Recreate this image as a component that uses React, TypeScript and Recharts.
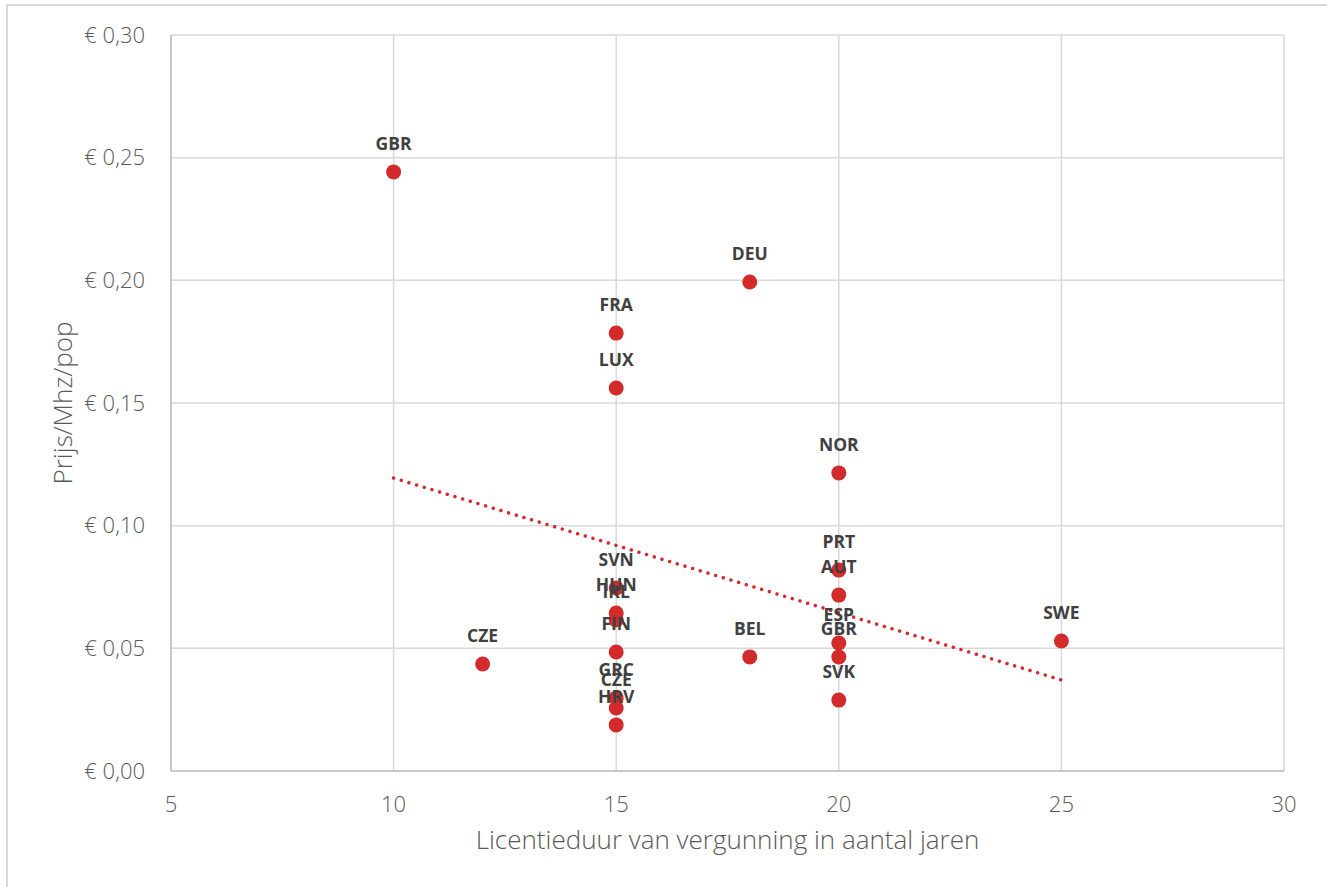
import React from 'react';
import { ScatterChart, Scatter, XAxis, YAxis, CartesianGrid, Label, LabelList } from 'recharts';

const countries = ['GBR', 'DEU', 'FRA', 'LUX', 'NOR', 'PRT', 'AUT', 'ESP', 'GBR', 'SVK', 'SWE', 'BEL', 'CZE', 'SVN', 'HUN', 'IRL', 'FIN', 'GRC', 'CZE', 'HRV'];
const years = [10, 18, 15, 15, 20, 20, 20, 20, 20, 20, 25, 18, 12, 15, 15, 15, 15, 15, 15, 15];
const prices = [0.2442, 0.1993, 0.1785, 0.1561, 0.1215, 0.0819, 0.0717, 0.0522, 0.0465, 0.0289, 0.053, 0.0465, 0.0436, 0.0746, 0.0644, 0.0616, 0.0485, 0.0298, 0.0257, 0.0188];

const trendYears = [10, 25];
const trendPrices = [0.1194, 0.0371];

const xTicks = [5, 10, 15, 20, 25, 30];
const yTicks = [0, 0.05, 0.1, 0.15, 0.2, 0.25, 0.3];

const points = countries.map((c, i) => ({ name: c, x: years[i], y: prices[i] }));
const trend = trendYears.map((x, i) => ({ x, y: trendPrices[i] }));

const RED = '#d32a2c';
const TEXT = '#595959';
const GRID = '#d9d9d9';
const FONT = '"Open Sans", "Noto Sans", sans-serif';

const fmtY = (v: number) => '€ ' + v.toFixed(2).replace('.', ',');

const CountryLabel = (props: any) => {
    const { x, y, width, value } = props;
    return (
        <text
            x={x + width / 2}
            y={y + width / 2 - 29}
            textAnchor="middle"
            dominantBaseline="central"
            fontFamily={FONT}
            fontWeight={700}
            fontSize={17.5}
            fill="#404040"
        >
            {value}
        </text>
    );
};

export default function App() {
    return (
        <div style={{ position: 'absolute', left: 0, top: 0, width: 1327, height: 887, background: '#fff' }}>
            <div style={{ position: 'absolute', left: 6, top: 4, right: -10, bottom: -10, borderLeft: `2px solid ${GRID}`, borderTop: `2px solid ${GRID}` }} />
            <div style={{ position: 'absolute', left: 0, top: 0 }}>
                <ScatterChart width={1327} height={887} margin={{ top: 35, right: 43, bottom: 76, left: 71 }}>
                    <CartesianGrid stroke={GRID} strokeWidth={1.5} />
                    <XAxis
                        type="number"
                        dataKey="x"
                        domain={[5, 30]}
                        ticks={xTicks}
                        height={40}
                        tickLine={false}
                        axisLine={{ stroke: '#bfbfbf', strokeWidth: 1.5 }}
                        tick={{ fill: TEXT, fontSize: 22, fontFamily: FONT, fontWeight: 300 }}
                        tickMargin={19}
                    >
                        <Label value="Licentieduur van vergunning in aantal jaren" position="bottom" offset={20} fill={TEXT} fontSize={26} fontFamily={FONT} fontWeight={300} />
                    </XAxis>
                    <YAxis
                        type="number"
                        dataKey="y"
                        domain={[0, 0.3]}
                        ticks={yTicks}
                        width={100}
                        tickFormatter={fmtY}
                        tickLine={false}
                        axisLine={{ stroke: '#bfbfbf', strokeWidth: 1.5 }}
                        tick={{ fill: TEXT, fontSize: 22, fontFamily: FONT, fontWeight: 300 }}
                        tickMargin={20}
                    >
                        <Label value="Prijs/Mhz/pop" angle={-90} position="insideLeft" offset={-8} style={{ textAnchor: 'middle' }} fill={TEXT} fontSize={26} fontFamily={FONT} fontWeight={300} />
                    </YAxis>
                    <Scatter
                        data={trend}
                        line={{ stroke: RED, strokeWidth: 3.5, strokeDasharray: '0.01 8', strokeLinecap: 'round' }}
                        shape={() => null}
                        isAnimationActive={false}
                    />
                    <Scatter data={points} fill={RED} isAnimationActive={false} shape={(p: any) => <circle cx={p.cx} cy={p.cy} r={7.5} fill={RED} />}>
                        <LabelList dataKey="name" content={CountryLabel} />
                    </Scatter>
                </ScatterChart>
            </div>
        </div>
    );
}
